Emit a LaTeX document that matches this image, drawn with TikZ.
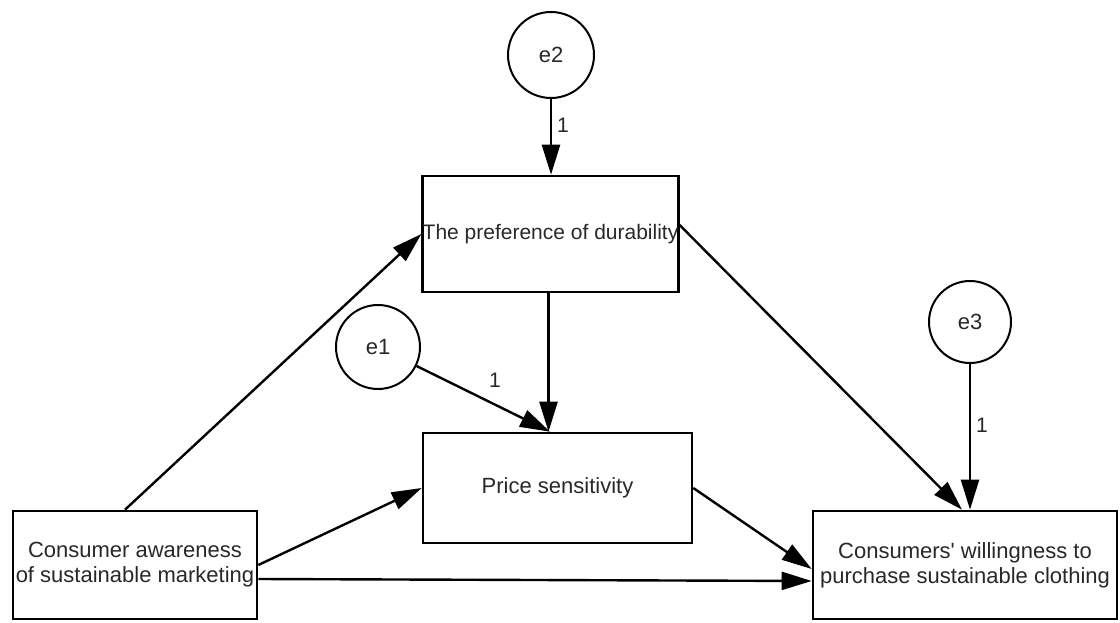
\documentclass[tikz,border=0pt]{standalone}
\usepackage{fontspec}
\setmainfont{Liberation Sans}
\usetikzlibrary{arrows.meta}
\definecolor{txt}{RGB}{40,40,40}
\tikzset{
  box/.style={draw=black, line width=2.6pt, rectangle, inner sep=0pt, align=center,
              text=txt, font=\fontsize{22}{25}\selectfont},
  err/.style={draw=black, line width=2pt, circle, inner sep=0pt, text=txt,
              font=\fontsize{22}{25}\selectfont},
  path/.style={draw=black, line width=2.4pt, -{Triangle[length=30pt,width=18pt]}},
  one/.style={text=txt, font=\fontsize{21}{24}\selectfont, inner sep=0pt}
}
\begin{document}
\begin{tikzpicture}[x=1pt, y=-1pt]
\useasboundingbox (0,0) rectangle (1120,623);
\node[box, minimum width=244pt, minimum height=108pt] (aware) at (135,565)
  {Consumer awareness\\of sustainable marketing};
\node[box, minimum width=304pt, minimum height=108pt] (will) at (965,565)
  {Consumers\textquotesingle{} willingness to\\purchase sustainable clothing};
\node[box, minimum width=255pt, minimum height=116pt, font=\fontsize{21}{24}\selectfont] (dur) at (550.5,234)
  {The preference of durability};
\node[box, minimum width=269pt, minimum height=110pt] (price) at (557.5,488)
  {Price sensitivity};
\node[err, minimum size=84pt] (e1) at (378,347) {e1};
\node[err, minimum size=86pt] (e2) at (551,55) {e2};
\node[err, minimum size=82pt] (e3) at (970,322) {e3};

\draw[path] (e2) -- (e2 |- dur.north);
\draw[path] ([xshift=-2pt]dur.south) -- ([xshift=-2pt]dur.south |- price.north);
\draw[path] (e1) -- ([xshift=-7.5pt]price.north);
\draw[path] ([xshift=-10pt]aware.north) -- (dur.west);
\draw[path] (aware.east) -- (price.west);
\draw[path] ([yshift=-14pt]aware.east) -- ([yshift=-16pt]will.west);
\draw[path] (price.east) -- ([yshift=-4pt]will.west);
\draw[path] ([yshift=9pt]dur.east) -- ([xshift=-3pt]will.north);
\draw[path] (e3) -- (e3 |- will.north);

\node[one] (l2) at (563,125) {1};
\node[one] (l1) at (495,380) {1};
\node[one] (l3) at (982,425) {1};
\end{tikzpicture}
\end{document}
